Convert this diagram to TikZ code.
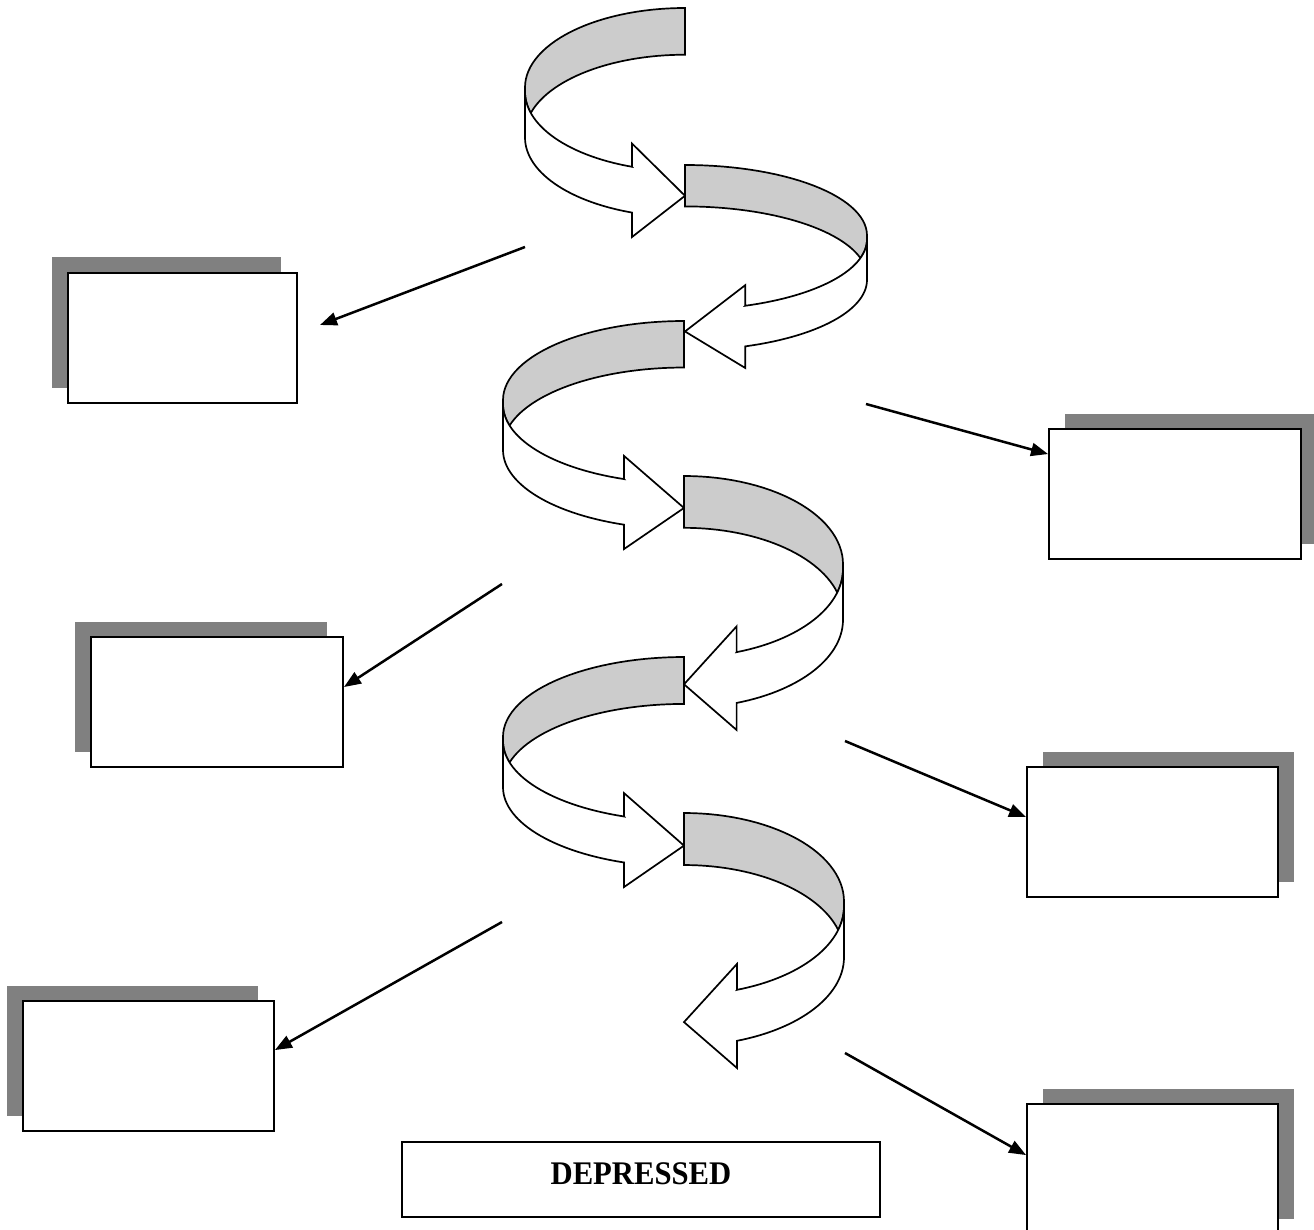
\documentclass[tikz,border=0pt]{standalone}
\usepackage{fontspec}
\setmainfont{Liberation Serif}
\newfontfamily\depfont[FakeStretch=0.93]{Liberation Serif}
\usetikzlibrary{arrows.meta,shadows}
\definecolor{backgray}{HTML}{CCCCCC}
\definecolor{shadowgray}{HTML}{808080}
\newcommand\ribbonshape{%
  \filldraw[ribbonline, fill=backgray]
    plot[domain=0:90] ({-sin(\x)},{0.347-0.347*cos(\x)})
    -- (-1,0.366)
    -- plot[domain=90:74.55] ({-sin(\x)},{0.366+0.347*cos(\x)})
    -- plot[domain=74.55:0] ({-sin(\x)},{0.551-0.347*cos(\x)})
    -- cycle;
  \filldraw[ribbonline, fill=white]
    (-1,0.366) -- (-1,0.566)
    -- plot[domain=90:19.33] ({-sin(\x)},{0.566+0.347*cos(\x)})
    -- (-0.331,1) -- (0,0.82) -- (-0.331,0.592) -- (-0.331,0.6934)
    -- plot[domain=19.33:90] ({-sin(\x)},{0.366+0.347*cos(\x)})
    -- cycle;
}
\begin{document}
\begin{tikzpicture}[x=1pt,y=-1pt,samples=31,
  ribbonline/.style={draw=black, line width=1.7pt, line join=miter},
  card/.style={draw=black, fill=white, line width=1.9pt, inner sep=0pt, minimum height=130pt},
  shadowleft/.style={drop shadow={shadow xshift=-16pt, shadow yshift=15.5pt, fill=shadowgray, opacity=1}},
  shadowright/.style={drop shadow={shadow xshift=16pt, shadow yshift=15.5pt, fill=shadowgray, opacity=1}},
  linkarrow/.style={line width=2.5pt, -{Triangle[length=17pt,width=13pt]}},
]
\path[use as bounding box, clip] (0,0) rectangle (1314,1230);
\fill[white] (0,0) rectangle (1314,1230);

% ribbon segments
\begin{scope}[shift={(685,8)}, xscale=160, yscale=229] \ribbonshape \end{scope}
\begin{scope}[shift={(685,165)}, xscale=-182, yscale=203] \ribbonshape \end{scope}
\begin{scope}[shift={(684,321)}, xscale=181, yscale=228] \ribbonshape \end{scope}
\begin{scope}[shift={(684,476)}, xscale=-159, yscale=254] \ribbonshape \end{scope}
\begin{scope}[shift={(684,657)}, xscale=181, yscale=230] \ribbonshape \end{scope}
\begin{scope}[shift={(684,813)}, xscale=-160, yscale=255] \ribbonshape \end{scope}

% boxes
\node[card, shadowleft, minimum width=229pt] (b1) at (182.5,338) {};
\node[card, shadowright, minimum width=252pt] (b2) at (1175,494) {};
\node[card, shadowleft, minimum width=252pt] (b3) at (217,702) {};
\node[card, shadowright, minimum width=251pt] (b4) at (1152.5,832) {};
\node[card, shadowleft, minimum width=251pt] (b5) at (148.5,1066) {};
\node[card, shadowright, minimum width=251pt] (b6) at (1152.5,1169) {};
\node[draw=black, fill=white, line width=1.9pt, inner sep=0pt, minimum width=478pt, minimum height=75pt,
      font=\depfont\bfseries\fontsize{33}{33}\selectfont, text depth=11pt] (dep) at (641,1179.5) {DEPRESSED};

% connectors
\coordinate (s1) at (525,247);
\coordinate (e1) at (320,325);
\coordinate (s2) at (866,404);
\coordinate (s3) at (502,584);
\coordinate (s4) at (845,741);
\coordinate (s5) at (502,922);
\coordinate (s6) at (845,1053);
\draw[linkarrow] (s1) -- (e1);
\draw[linkarrow] (s2) -- ([yshift=-26pt]b2.north west);
\draw[linkarrow] (s3) -- ([yshift=-51pt]b3.north east);
\draw[linkarrow] (s4) -- ([yshift=-51pt]b4.north west);
\draw[linkarrow] (s5) -- ([yshift=-50pt]b5.north east);
\draw[linkarrow] (s6) -- ([yshift=-52pt]b6.north west);
\end{tikzpicture}
\end{document}
